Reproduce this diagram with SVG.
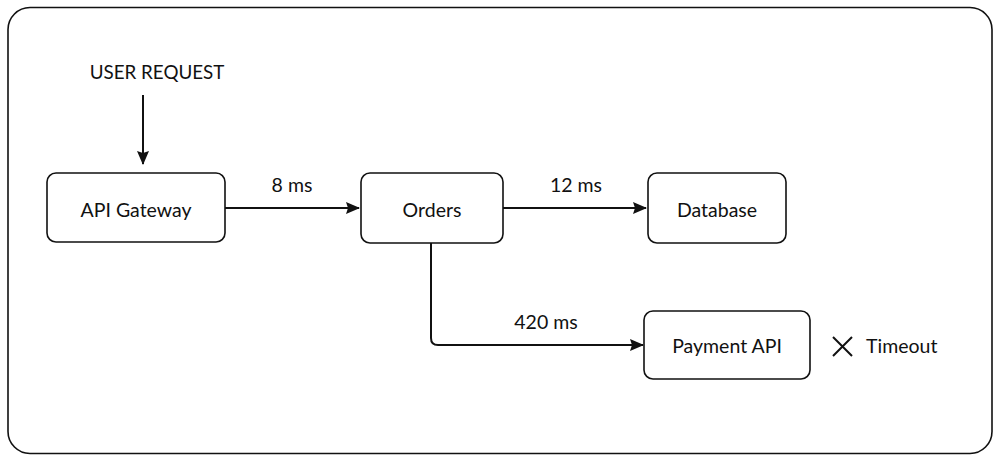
<svg xmlns="http://www.w3.org/2000/svg" width="1000" height="461" viewBox="0 0 1000 461">
<defs>
<marker id="arr" viewBox="0 0 14 12" refX="13" refY="6" markerWidth="14" markerHeight="12" markerUnits="userSpaceOnUse" orient="auto">
<path d="M0,0 L14,6 L0,12 L2,6 Z" fill="#111"/>
</marker>
<style>
.node{fill:#fff;stroke:#111;stroke-width:1.6}
.t{font-family:Lato,"Open Sans","Liberation Sans",sans-serif;font-size:19.5px;fill:#111;text-anchor:middle}
.e{fill:none;stroke:#111;stroke-width:2}
</style>
</defs>
<rect width="1000" height="461" fill="#fff"/>
<rect id="frame" x="8" y="7.5" width="984" height="446" rx="22" fill="#fff" stroke="#111" stroke-width="1.6"/>
<text class="t" x="157" y="79" style="font-size:18.8px">USER REQUEST</text>
<g id="connectors">
<path class="e" d="M143,95 V164" marker-end="url(#arr)"/>
<path class="e" d="M225,208 H359" marker-end="url(#arr)"/>
<path class="e" d="M503,208 H646" marker-end="url(#arr)"/>
<path class="e" d="M431,243 V338 Q431,345 438,345 H643" marker-end="url(#arr)"/>
<text class="t" x="292" y="192">8 ms</text>
<text class="t" x="576" y="192">12 ms</text>
<text class="t" x="546" y="329">420 ms</text>
</g>
<g id="api-gateway">
<rect class="node" x="47" y="173" width="178" height="69" rx="9"/>
<text class="t" x="136" y="217">API Gateway</text>
</g>
<g id="orders">
<rect class="node" x="361" y="173" width="142" height="70" rx="9"/>
<text class="t" x="432" y="217">Orders</text>
</g>
<g id="database">
<rect class="node" x="648" y="173" width="138" height="70" rx="9"/>
<text class="t" x="717" y="217">Database</text>
</g>
<g id="payment-api">
<rect class="node" x="644" y="311" width="166" height="68" rx="9"/>
<text class="t" x="727" y="353">Payment API</text>
</g>
<g id="timeout">
<path d="M833,337 L852,356 M852,337 L833,356" stroke="#111" stroke-width="2" fill="none"/>
<text class="t" x="866" y="353" style="text-anchor:start">Timeout</text>
</g>
</svg>
